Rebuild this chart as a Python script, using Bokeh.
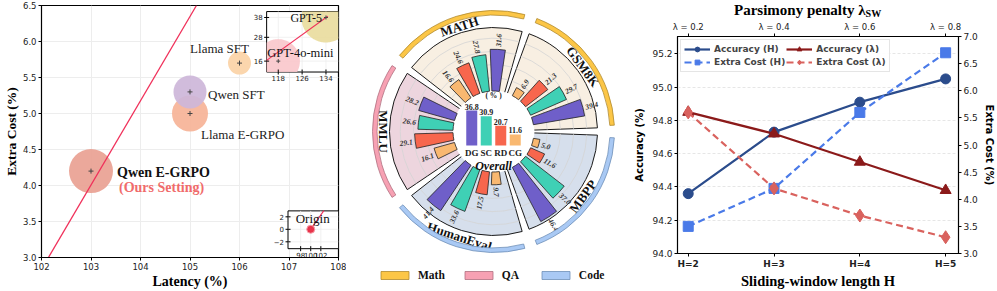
import numpy as np
from bokeh.plotting import figure
from bokeh.layouts import row, column
from bokeh.models import (Range1d, LinearAxis, FixedTicker, Legend, LegendItem,
                          NumeralTickFormatter)
from bokeh.embed import file_html
from bokeh.resources import INLINE

SERIF = "Liberation Serif"
SANS = "DejaVu Sans"

# ----------------------------------------------------------------- data: panel 1
models = ["Qwen E-GRPO", "Llama E-GRPO", "Qwen SFT", "Llama SFT"]
latency = [103.0, 105.0, 105.0, 106.0]
extra_cost = [4.2, 5.0, 5.3, 5.7]
fit_latency = [102.14, 105.13]
fit_cost = [3.0, 6.5]
latency_ticks = [102, 103, 104, 105, 106, 107, 108]
cost_ticks = [3.0, 3.5, 4.0, 4.5, 5.0, 5.5, 6.0, 6.5]

gpt_models = ["GPT-4o-mini", "GPT-5"]
gpt_latency = [118.0, 134.0]
gpt_cost = [16.0, 38.0]
gpt_fit_latency = [114.1, 134.6]
gpt_fit_cost = [16.4, 38.6]
gpt_xticks = [118, 126, 134]
gpt_yticks = [16, 28, 38]

origin_name = "Origin"
origin_latency = [100.0]
origin_cost = [0.0]
origin_fit_latency = [100.0, 102.6]
origin_fit_cost = [0.0, 3.0]
origin_xticks = [98, 100, 102]
origin_yticks = [-2, 0, 2]
origin_ytick_labels = ["\u22122", "0", "2"]

# ----------------------------------------------------------------- data: panel 2
tasks = ["GSM8K", "MATH", "MMLU", "HumanEval", "MBPP"]
task_group = ["Math", "Math", "QA", "Code", "Code"]
groups = ["Math", "QA", "Code"]
methods = ["DG", "SC", "RD", "CG"]
gsm8k = [39.4, 29.7, 21.3, 6.9]
math_ = [31.6, 27.8, 24.6, 16.6]
mmlu = [28.2, 26.6, 29.1, 16.1]
humaneval = [41.4, 33.6, 17.5, 9.7]
mbpp = [46.4, 37.0, 11.6, 5.0]
overall = [36.8, 30.9, 20.7, 11.6]
ring_values = [10, 20, 30, 40, 50]

# ----------------------------------------------------------------- data: panel 3
H_vals = [2, 3, 4, 5]
H_labels = ["H=2", "H=3", "H=4", "H=5"]
lam_vals = [0.2, 0.4, 0.6, 0.8]
lam_labels = ["\u03bb = 0.2", "\u03bb = 0.4", "\u03bb = 0.6", "\u03bb = 0.8"]
acc_H = [94.36, 94.73, 94.91, 95.05]
cost_H = [3.5, 4.2, 5.6, 6.7]
acc_lam = [94.85, 94.72, 94.55, 94.38]
cost_lam = [5.6, 4.2, 3.7, 3.3]
acc_ticks = [94.0, 94.2, 94.4, 94.6, 94.8, 95.0, 95.2]
extra_ticks = [3.0, 3.5, 4.0, 4.5, 5.0, 5.5, 6.0, 6.5, 7.0]
top_title = "Parsimony penalty \u03bb"
top_title_sub = "SW"

TOTAL_H = 291


def outer_range(lo, hi, f0, f1):
    span = (hi - lo) / (f1 - f0)
    start = lo - f0 * span
    return Range1d(start, start + span)


def style_axis(ax, tick_size, label_size, label_font, label_style="bold", label_standoff=1):
    ax.axis_line_color = "black"
    ax.major_tick_line_color = "black"
    ax.minor_tick_line_color = None
    ax.major_tick_out = 3
    ax.major_tick_in = 0
    ax.major_label_standoff = 2
    ax.axis_label_standoff = label_standoff
    ax.major_label_text_font = SANS
    ax.major_label_text_font_size = tick_size
    ax.major_label_text_color = "#222222"
    ax.axis_label_text_font = label_font
    ax.axis_label_text_font_style = label_style
    ax.axis_label_text_font_size = label_size
    ax.axis_label_text_color = "black"


# =========================================================== panel 1 (bubbles)
W1 = 346
BL1, BR1, BT1, BB1 = 36, 8, 5, 34
FW1, FH1 = W1 - BL1 - BR1, TOTAL_H - BT1 - BB1
p1 = figure(width=W1, height=TOTAL_H, min_border_left=BL1, min_border_right=BR1,
            min_border_top=BT1, min_border_bottom=BB1,
            x_range=Range1d(102, 108), y_range=Range1d(3.0, 6.5),
            output_backend="svg", toolbar_location=None)
p1.outline_line_color = "black"
p1.outline_line_width = 1.2
p1.grid.grid_line_color = "#ededed"
p1.xaxis.ticker = FixedTicker(ticks=latency_ticks)
p1.yaxis.ticker = FixedTicker(ticks=cost_ticks)
p1.yaxis.formatter = NumeralTickFormatter(format="0.0")
p1.xaxis.axis_label = "Latency (%)"
p1.yaxis.axis_label = "Extra Cost (%)"
style_axis(p1.xaxis[0], "8.5px", "14px", SERIF)
style_axis(p1.yaxis[0], "8.5px", "13.5px", SERIF)

bubble_px = [44, 36, 33, 23]
bubble_colors = ["#e9a193", "#f6b397", "#cdb6d9", "#fbd2a6"]
p1.scatter(latency, extra_cost, size=bubble_px, fill_color=bubble_colors,
           fill_alpha=0.92, line_color=None)
p1.scatter(latency, extra_cost, marker="cross", size=5, line_color="#444444", line_width=1)
p1.line(fit_latency, fit_cost, line_color="#f0305a", line_width=1.3)

label_specs = [
    (0, models[0], 26, 1, "left", "bold", "#111111", "14px"),
    (0, "(Ours Setting)", 28, 16, "left", "bold", "#f06b6b", "14px"),
    (1, models[1], 11, 21, "left", "normal", "#222222", "13px"),
    (2, models[2], 18, 3, "left", "normal", "#222222", "13px"),
    (3, models[3], -20, -15, "center", "normal", "#222222", "13px"),
]
for i, txt, dx, dy, al, st, col, fs in label_specs:
    p1.text(x=[latency[i]], y=[extra_cost[i]], text=[txt], x_offset=dx, y_offset=dy,
            text_align=al, text_baseline="middle", text_font={"value": SERIF},
            text_font_style=st, text_color=col, text_font_size=fs)

# ---- inset 1 (GPT models)
i1_xlim, i1_ylim = (114.1, 138.2), (10.5, 41.0)
i1_fx, i1_fy = (0.758, 1.0), (0.736, 0.976)
p1.extra_x_ranges["i1x"] = outer_range(*i1_xlim, *i1_fx)
p1.extra_y_ranges["i1y"] = outer_range(*i1_ylim, *i1_fy)
i1_sx = FW1 * (i1_fx[1] - i1_fx[0]) / (i1_xlim[1] - i1_xlim[0])
i1_sy = FH1 * (i1_fy[1] - i1_fy[0]) / (i1_ylim[1] - i1_ylim[0])
kw1 = dict(x_range_name="i1x", y_range_name="i1y")
p1.quad(left=[i1_xlim[0]], right=[i1_xlim[1]], bottom=[i1_ylim[0]], top=[i1_ylim[1]],
        fill_color="white", line_color="black", line_width=1, **kw1)
p1.segment(x0=gpt_xticks, x1=gpt_xticks, y0=[i1_ylim[0]] * 3, y1=[i1_ylim[1]] * 3,
           line_color="#eeeeee", line_width=0.8, **kw1)
p1.segment(x0=[i1_xlim[0]] * 3, x1=[i1_xlim[1]] * 3, y0=gpt_yticks, y1=gpt_yticks,
           line_color="#eeeeee", line_width=0.8, **kw1)


def clipped_disc(cx, cy, r_px, sx, sy, xlim, ylim):
    t = np.linspace(0, 2 * np.pi, 160)
    xs = np.clip(cx + r_px * np.cos(t) / sx, *xlim)
    ys = np.clip(cy + r_px * np.sin(t) / sy, *ylim)
    return list(xs), list(ys)


gpt_px = [22, 25]
gpt_colors = ["#f9c6cb", "#e9dc9c"]
for k in range(2):
    xs, ys = clipped_disc(gpt_latency[k], gpt_cost[k], gpt_px[k], i1_sx, i1_sy, i1_xlim, i1_ylim)
    p1.patch(xs, ys, fill_color=gpt_colors[k], fill_alpha=0.9, line_color=None, **kw1)
p1.line(gpt_fit_latency, gpt_fit_cost, line_color="#f0305a", line_width=1.1, **kw1)
p1.scatter(gpt_latency, gpt_cost, marker="cross", size=4, line_color="#444444", **kw1)
p1.text(x=[gpt_latency[1]], y=[gpt_cost[1]], text=[gpt_models[1]], x_offset=-4, y_offset=1,
        text_align="right", text_baseline="middle", text_font={"value": SERIF},
        text_font_size="12px", text_color="#111111", **kw1)
p1.text(x=[gpt_latency[0]], y=[gpt_cost[0]], text=[gpt_models[0]], x_offset=-11, y_offset=-8,
        text_align="left", text_baseline="middle", text_font={"value": SERIF},
        text_font_size="12.5px", text_color="#111111", **kw1)
p1.scatter(x=gpt_xticks, y=[i1_ylim[0]] * 3, marker="dash", angle=np.pi / 2, size=5,
           line_color="black", **kw1)
p1.scatter(x=[i1_xlim[0]] * 3, y=gpt_yticks, marker="dash", size=5, line_color="black", **kw1)
p1.text(x=gpt_xticks, y=[i1_ylim[0]] * 3, text=[str(t) for t in gpt_xticks], y_offset=3,
        text_align="center", text_baseline="top", text_font={"value": SANS},
        text_font_size="7px", text_color="#222222", **kw1)
p1.text(x=[i1_xlim[0]] * 3, y=gpt_yticks, text=[str(t) for t in gpt_yticks], x_offset=-4,
        text_align="right", text_baseline="middle", text_font={"value": SANS},
        text_font_size="7px", text_color="#222222", **kw1)

# ---- inset 2 (origin)
i2_xlim, i2_ylim = (95.5, 105.5), (-3.1, 2.95)
i2_fx, i2_fy = (0.83, 1.0), (0.035, 0.185)
p1.extra_x_ranges["i2x"] = outer_range(*i2_xlim, *i2_fx)
p1.extra_y_ranges["i2y"] = outer_range(*i2_ylim, *i2_fy)
kw2 = dict(x_range_name="i2x", y_range_name="i2y")
p1.quad(left=[i2_xlim[0]], right=[i2_xlim[1]], bottom=[i2_ylim[0]], top=[i2_ylim[1]],
        fill_color="white", line_color="black", line_width=1, **kw2)
p1.segment(x0=origin_xticks, x1=origin_xticks, y0=[i2_ylim[0]] * 3, y1=[i2_ylim[1]] * 3,
           line_color="#eeeeee", line_width=0.8, **kw2)
p1.segment(x0=[i2_xlim[0]] * 3, x1=[i2_xlim[1]] * 3, y0=origin_yticks, y1=origin_yticks,
           line_color="#eeeeee", line_width=0.8, **kw2)
p1.line(origin_fit_latency, origin_fit_cost, line_color="#f0305a", line_width=1.1, **kw2)
p1.scatter(origin_latency, origin_cost, size=8, fill_color="#e8334a", line_color="#f5a0aa",
           line_width=1, **kw2)
p1.text(x=origin_latency, y=origin_cost, text=[origin_name], x_offset=-15, y_offset=-11,
        text_align="left", text_baseline="middle", text_font={"value": SERIF},
        text_font_size="13px", text_color="#111111", **kw2)
p1.scatter(x=origin_xticks, y=[i2_ylim[0]] * 3, marker="dash", angle=np.pi / 2, size=5,
           line_color="black", **kw2)
p1.scatter(x=[i2_xlim[0]] * 3, y=origin_yticks, marker="dash", size=5, line_color="black", **kw2)
p1.text(x=origin_xticks, y=[i2_ylim[0]] * 3, text=[str(t) for t in origin_xticks], y_offset=3,
        text_align="center", text_baseline="top", text_font={"value": SANS},
        text_font_size="7px", text_color="#222222", **kw2)
p1.text(x=[i2_xlim[0]] * 3, y=origin_yticks, text=origin_ytick_labels, x_offset=-4,
        text_align="right", text_baseline="middle", text_font={"value": SANS},
        text_font_size="7px", text_color="#222222", **kw2)

# =========================================================== panel 2 (radial bars)
W2 = 284
CX, CY = 147, 131          # centre, px from panel left / top
p2 = figure(width=W2, height=TOTAL_H, x_range=Range1d(-CX, W2 - CX),
            y_range=Range1d(CY - TOTAL_H, CY),
            x_axis_location=None, y_axis_location=None, min_border_left=0, min_border_right=0,
            min_border_top=0, min_border_bottom=0, output_backend="svg",
            toolbar_location=None)
p2.outline_line_color = None
p2.grid.visible = False

R_IN, K, R_SECT, R_ARC0, R_ARC1, R_LAB = 40.5, 1.32, 104, 116.5, 121, 110.5
SECT = 72
method_colors = ["#6f5fc9", "#3fd0b5", "#f7664d", "#f9b870"]
group_fill = {"Math": "#f8efe2", "QA": "#edd5de", "Code": "#d6dfec"}
arc_fill = {"Math": "#fcc646", "QA": "#f7a1b3", "Code": "#a9c9f4"}
arc_line = {"Math": "#b08a30", "QA": "#b07080", "Code": "#6f8fb8"}
task_scores = [gsm8k, math_, mmlu, humaneval, mbpp]
rad = np.deg2rad

s0 = [rad(SECT * i + 2.0) for i in range(5)]
s1 = [rad(SECT * (i + 1) - 2.0) for i in range(5)]
p2.annular_wedge(x=0, y=0, inner_radius=R_IN - 1, outer_radius=R_SECT, start_angle=s0,
                 end_angle=s1, fill_color=[group_fill[g] for g in task_group],
                 line_color="#1a1a1a", line_width=1)
rr, ra0, ra1 = [], [], []
for i in range(5):
    for v in ring_values:
        r = R_IN + K * v
        if r < R_SECT - 2:
            rr.append(r); ra0.append(s0[i]); ra1.append(s1[i])
p2.arc(x=0, y=0, radius=rr, start_angle=ra0, end_angle=ra1, line_color="#d4d4d4",
       line_width=0.8)
p2.circle(x=[0], y=[0], radius=R_IN + 0.5, fill_color="white", line_color=None)

b_start, b_end, b_out, b_col = [], [], [], []
labL = dict(x=[], y=[], text=[], angle=[])
labR = dict(x=[], y=[], text=[], angle=[])
for i, sc in enumerate(task_scores):
    mid = SECT * i + SECT / 2
    for j, v in enumerate(sc):
        th = mid + (j - 1.5) * 14
        b_start.append(rad(th - 5.3)); b_end.append(rad(th + 5.3))
        r_end = R_IN + K * v
        b_out.append(r_end); b_col.append(method_colors[j])
        lx, ly = (r_end + 2.5) * np.cos(rad(th)), (r_end + 2.5) * np.sin(rad(th))
        if np.cos(rad(th)) >= -1e-9:
            d = labL; ang = th
        else:
            d = labR; ang = th + 180
        d["x"].append(lx); d["y"].append(ly); d["text"].append(f"{v:.1f}")
        d["angle"].append(rad(ang))
p2.annular_wedge(x=0, y=0, inner_radius=R_IN, outer_radius=b_out, start_angle=b_start,
                 end_angle=b_end, fill_color=b_col, line_color="#222222", line_width=0.8)
for d, al in ((labL, "left"), (labR, "right")):
    p2.text(x=d["x"], y=d["y"], text=d["text"], angle=d["angle"], text_align=al,
            text_baseline="middle", text_font={"value": SERIF}, text_font_style="bold italic",
            text_font_size="7.5px", text_color="#333333")

tx, ty, tang = [], [], []
for i in range(5):
    th = SECT * i + SECT / 2
    tx.append(R_LAB * np.cos(rad(th))); ty.append(R_LAB * np.sin(rad(th)))
    tang.append(rad(th - 90) if np.sin(rad(th)) > 1e-6 else rad(th + 90))
p2.text(x=tx, y=ty, text=tasks, angle=tang, text_align="center", text_baseline="middle",
        text_font={"value": SERIF}, text_font_style="bold", text_font_size="13px",
        text_color="#111111")

legend_items = []
for g in groups:
    idx = [i for i, tg in enumerate(task_group) if tg == g]
    r = p2.annular_wedge(x=0, y=0, inner_radius=R_ARC0, outer_radius=R_ARC1,
                         start_angle=[rad(SECT * i + 3) for i in idx],
                         end_angle=[rad(SECT * (i + 1) - 3) for i in idx],
                         fill_color=arc_fill[g], line_color=arc_line[g], line_width=0.8)
    legend_items.append(LegendItem(label=g, renderers=[r]))
leg2 = Legend(items=legend_items, orientation="horizontal", location=(31, 10),
              glyph_width=35, glyph_height=10, label_height=12, label_standoff=6, spacing=16,
              padding=2, margin=0, border_line_color=None, background_fill_alpha=0,
              label_text_font=SERIF, label_text_font_style="bold",
              label_text_font_size="11.5px", label_text_color="#111111")
p2.add_layout(leg2)

p2.extra_y_ranges["inner"] = outer_range(0, 10, (TOTAL_H - CY - 14) / TOTAL_H,
                                         (TOTAL_H - CY - 14 + 9.5) / TOTAL_H)
ox = [(i - 1.5) * 14.5 for i in range(4)]
p2.vbar(x=ox, top=overall, bottom=0, width=11, fill_color=method_colors, line_color=None,
        y_range_name="inner")
p2.text(x=ox, y=overall, text=[f"{v:.1f}" for v in overall], y_offset=-1,
        text_align="center", text_baseline="bottom", text_font={"value": SERIF},
        text_font_style="bold", text_font_size="8px", text_color="#222222", y_range_name="inner")
p2.text(x=ox, y=[0] * 4, text=methods, y_offset=2, text_align="center", text_baseline="top",
        text_font={"value": SERIF}, text_font_style="bold", text_font_size="9px",
        text_color="#222222", y_range_name="inner")
p2.text(x=[0], y=[0], text=["Overall"], y_offset=13, text_align="center", text_baseline="top",
        text_font={"value": SERIF}, text_font_style="bold italic", text_font_size="12px",
        text_color="#111111", y_range_name="inner")
p2.text(x=[0], y=[max(overall)], text=["( % )"], y_offset=-11, text_align="center",
        text_baseline="bottom", text_font={"value": SERIF}, text_font_style="bold",
        text_font_size="7.5px", text_color="#222222", y_range_name="inner")

# =========================================================== panel 3 (lines)
W3, HH = 367, 18
H3 = TOTAL_H - HH
BL3, BR3, BT3, BB3 = 47, 35, 15, 34
FW3 = W3 - BL3 - BR3
hdr = figure(width=W3, height=HH, x_range=Range1d(0, W3), y_range=Range1d(0, HH),
             x_axis_location=None, y_axis_location=None, min_border_left=0,
             min_border_right=0, min_border_top=0, min_border_bottom=0,
             output_backend="svg", toolbar_location=None)
hdr.outline_line_color = None
hdr.grid.visible = False
title_x = BL3 + 0.697 * FW3
hdr.text(x=[title_x], y=[HH - 9], text=[top_title], text_align="right", text_baseline="middle",
         text_font={"value": SERIF}, text_font_style="bold", text_font_size="15px",
         text_color="black")
hdr.text(x=[title_x], y=[HH - 13], text=[top_title_sub], text_align="left",
         text_baseline="middle", text_font={"value": SERIF}, text_font_style="bold",
         text_font_size="10px", text_color="black")

p3 = figure(width=W3, height=H3, min_border_left=BL3, min_border_right=BR3,
            min_border_top=BT3, min_border_bottom=BB3,
            x_range=Range1d(1.875, 5.15), y_range=Range1d(94.0, 95.305),
            output_backend="svg", toolbar_location=None)
p3.extra_y_ranges["cost"] = Range1d(3.0, 7.0)
p3.extra_x_ranges["lam"] = Range1d(0.175, 0.83)
p3.outline_line_color = "black"
p3.outline_line_width = 1.2
p3.xgrid.grid_line_color = None
p3.ygrid.grid_line_color = "#e6e6e6"
p3.ygrid.grid_line_dash = "3 2"
p3.xaxis.ticker = FixedTicker(ticks=H_vals)
p3.xaxis.major_label_overrides = dict(zip(H_vals, H_labels))
p3.yaxis.ticker = FixedTicker(ticks=acc_ticks)
p3.yaxis.formatter = NumeralTickFormatter(format="0.0")
p3.xaxis.axis_label = "Sliding-window length H"
p3.yaxis.axis_label = "Accuracy (%)"
style_axis(p3.xaxis[0], "9px", "14.5px", SERIF)
p3.xaxis.major_label_text_font_style = "bold"
style_axis(p3.yaxis[0], "9px", "10px", SANS, label_standoff=4)

ax_r = LinearAxis(y_range_name="cost", axis_label="Extra Cost (%)",
                  ticker=FixedTicker(ticks=extra_ticks), formatter=NumeralTickFormatter(format="0.0"))
style_axis(ax_r, "9px", "10px", SANS, label_standoff=3)
p3.add_layout(ax_r, "right")
ax_t = LinearAxis(x_range_name="lam", ticker=FixedTicker(ticks=lam_vals),
                  major_label_overrides=dict(zip(lam_vals, lam_labels)))
style_axis(ax_t, "8.5px", "10px", SANS)
p3.add_layout(ax_t, "above")

c_accH, c_costH, c_accL, c_costL = "#2b4c8c", "#4a7ae8", "#8b1a1a", "#d9625e"
l1 = p3.line(H_vals, acc_H, line_color=c_accH, line_width=2.2)
m1 = p3.scatter(H_vals, acc_H, marker="circle", size=10, fill_color=c_accH, line_color=c_accH)
l2 = p3.line(H_vals, cost_H, line_color=c_costH, line_width=2.2, line_dash="7 4",
             y_range_name="cost")
m2 = p3.scatter(H_vals, cost_H, marker="square", size=10, fill_color=c_costH,
                line_color=c_costH, y_range_name="cost")
l3 = p3.line(lam_vals, acc_lam, line_color=c_accL, line_width=2.2, x_range_name="lam")
m3 = p3.scatter(lam_vals, acc_lam, marker="triangle", size=11, fill_color=c_accL,
                line_color=c_accL, x_range_name="lam")
l4 = p3.line(lam_vals, cost_lam, line_color=c_costL, line_width=2.2, line_dash="7 4",
             x_range_name="lam", y_range_name="cost")
m4 = p3.scatter(lam_vals, cost_lam, marker="diamond", size=13, fill_color=c_costL,
                line_color=c_costL, x_range_name="lam", y_range_name="cost")

leg3 = Legend(items=[LegendItem(label="Accuracy (H)", renderers=[l1, m1]),
                     LegendItem(label="Extra Cost (H)", renderers=[l2, m2]),
                     LegendItem(label="Accuracy (\u03bb)", renderers=[l3, m3]),
                     LegendItem(label="Extra Cost (\u03bb)", renderers=[l4, m4])],
              location="top_left", ncols=2, glyph_width=26, glyph_height=12,
              label_standoff=4, spacing=1, padding=3, margin=3,
              label_text_font=SANS, label_text_font_style="bold",
              label_text_font_size="9px", label_height=12,
              border_line_color="#cccccc", background_fill_alpha=0.9)
p3.add_layout(leg3)

layout = row(column(p1), column(p2), column(hdr, p3, spacing=0), spacing=0)
open("out.html", "w").write(file_html(layout, INLINE))
